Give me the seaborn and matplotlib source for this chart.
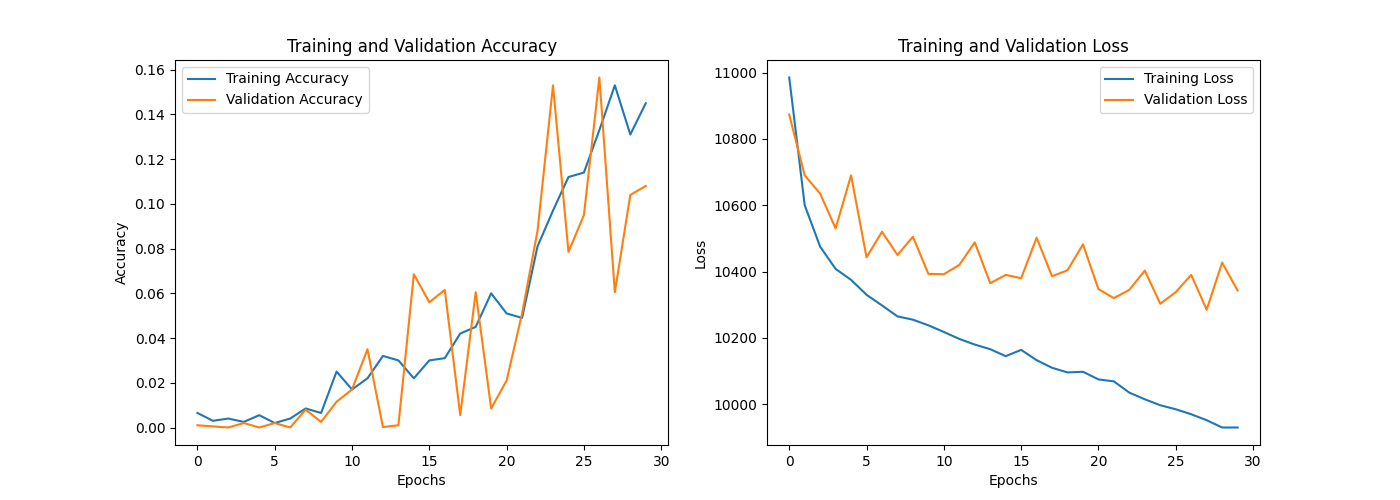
import matplotlib
matplotlib.use("Agg")
import matplotlib.pyplot as plt
import seaborn as sns

epochs = list(range(30))

train_acc = [0.0065, 0.003, 0.004, 0.0025, 0.0055, 0.002, 0.004, 0.0085, 0.0065, 0.025,
             0.017, 0.022, 0.032, 0.030, 0.022, 0.030, 0.031, 0.042, 0.045, 0.060,
             0.051, 0.049, 0.081, 0.097, 0.112, 0.114, 0.133, 0.153, 0.131, 0.145]
val_acc = [0.001, 0.0005, 0.0, 0.002, 0.0, 0.002, 0.0, 0.008, 0.0025, 0.0115,
           0.017, 0.035, 0.0002, 0.001, 0.0685, 0.056, 0.0615, 0.0055, 0.0605, 0.0085,
           0.021, 0.051, 0.088, 0.153, 0.0785, 0.095, 0.1565, 0.0605, 0.104, 0.108]

train_loss = [10985, 10600, 10475, 10408, 10375, 10330, 10298, 10265, 10255, 10238,
              10218, 10197, 10180, 10166, 10145, 10164, 10133, 10110, 10096, 10098,
              10075, 10069, 10035, 10015, 9997, 9985, 9970, 9952, 9930, 9930]
val_loss = [10873, 10690, 10635, 10530, 10690, 10443, 10520, 10450, 10505, 10393,
            10392, 10420, 10488, 10365, 10390, 10380, 10502, 10386, 10404, 10482,
            10347, 10320, 10345, 10403, 10303, 10338, 10390, 10285, 10427, 10343]

fig, (ax1, ax2) = plt.subplots(1, 2, figsize=(14, 5), dpi=100)

# accuracy
sns.lineplot(x=epochs, y=train_acc, ax=ax1, label="Training Accuracy")
sns.lineplot(x=epochs, y=val_acc, ax=ax1, label="Validation Accuracy")
ax1.set_title("Training and Validation Accuracy")
ax1.set_xlabel("Epochs")
ax1.set_ylabel("Accuracy")
ax1.legend(loc="upper left")

# loss
sns.lineplot(x=epochs, y=train_loss, ax=ax2, label="Training Loss")
sns.lineplot(x=epochs, y=val_loss, ax=ax2, label="Validation Loss")
ax2.set_title("Training and Validation Loss")
ax2.set_xlabel("Epochs")
ax2.set_ylabel("Loss")
ax2.legend(loc="upper right")

plt.savefig("out.png")
